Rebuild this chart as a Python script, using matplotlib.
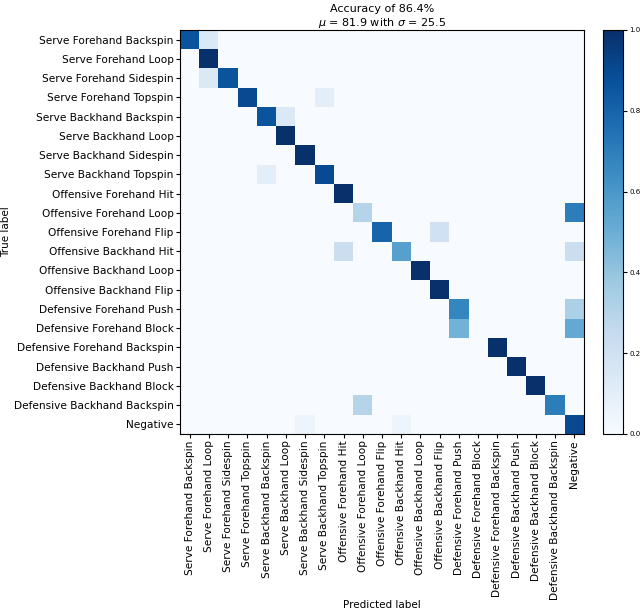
import numpy as np
import matplotlib
matplotlib.use("Agg")
import matplotlib.pyplot as plt

labels = [
    "Serve Forehand Backspin", "Serve Forehand Loop", "Serve Forehand Sidespin",
    "Serve Forehand Topspin", "Serve Backhand Backspin", "Serve Backhand Loop",
    "Serve Backhand Sidespin", "Serve Backhand Topspin", "Offensive Forehand Hit",
    "Offensive Forehand Loop", "Offensive Forehand Flip", "Offensive Backhand Hit",
    "Offensive Backhand Loop", "Offensive Backhand Flip", "Defensive Forehand Push",
    "Defensive Forehand Block", "Defensive Forehand Backspin", "Defensive Backhand Push",
    "Defensive Backhand Block", "Defensive Backhand Backspin", "Negative",
]

# non-zero cells: (true row, predicted col, normalized value)
rows = [0, 0, 1, 2, 2, 3, 3, 4, 4, 5, 6, 7, 7, 8, 9, 9, 10, 10, 11, 11, 11,
        12, 13, 14, 14, 15, 15, 16, 17, 18, 19, 19, 20, 20, 20]
cols = [0, 1, 1, 1, 2, 3, 7, 4, 5, 5, 6, 4, 7, 8, 9, 20, 10, 13, 8, 11, 20,
        12, 13, 14, 20, 14, 20, 16, 17, 18, 9, 19, 6, 11, 20]
vals = [0.86, 0.14, 1.0, 0.14, 0.86, 0.9, 0.1, 0.86, 0.14, 1.0, 1.0, 0.1, 0.9, 1.0,
        0.3, 0.7, 0.8, 0.2, 0.22, 0.56, 0.22,
        1.0, 1.0, 0.67, 0.33, 0.48, 0.52, 1.0, 1.0, 1.0, 0.3, 0.7, 0.05, 0.05, 0.9]

n = len(labels)
cm = np.zeros((n, n))
for r, c, v in zip(rows, cols, vals):
    cm[r, c] = v

fig = plt.figure(figsize=(6.4, 6.12), dpi=100)
W, H = 640, 612
ax = fig.add_axes([180 / W, 1 - 434 / H, 404 / W, 404 / H])
cax = fig.add_axes([603 / W, 1 - 434 / H, 20 / W, 404 / H])

im = ax.imshow(cm, interpolation="nearest", cmap=plt.cm.Blues, vmin=0, vmax=1, aspect="auto")
cb = fig.colorbar(im, cax=cax)
cb.set_ticks([0.0, 0.2, 0.4, 0.6, 0.8, 1.0])
cb.ax.tick_params(labelsize=5, length=3, pad=1.5)

ax.set_xticks(np.arange(n))
ax.set_yticks(np.arange(n))
ax.set_xticklabels(labels, rotation=90, fontsize=7.6)
ax.set_yticklabels(labels, fontsize=7.6)
ax.tick_params(length=3, pad=1.5)
ax.set_ylabel("True label", fontsize=7.5)
ax.set_xlabel("Predicted label", fontsize=7.5)
ax.yaxis.set_label_coords((11 - 180) / 404, 0.5)
ax.xaxis.set_label_coords(0.5, (434 - 600) / 404)
ax.set_title("Accuracy of 86.4%\n$\\mu$ = 81.9 with $\\sigma$ = 25.5", fontsize=8, pad=3)

fig.savefig("out.png", dpi=100)
